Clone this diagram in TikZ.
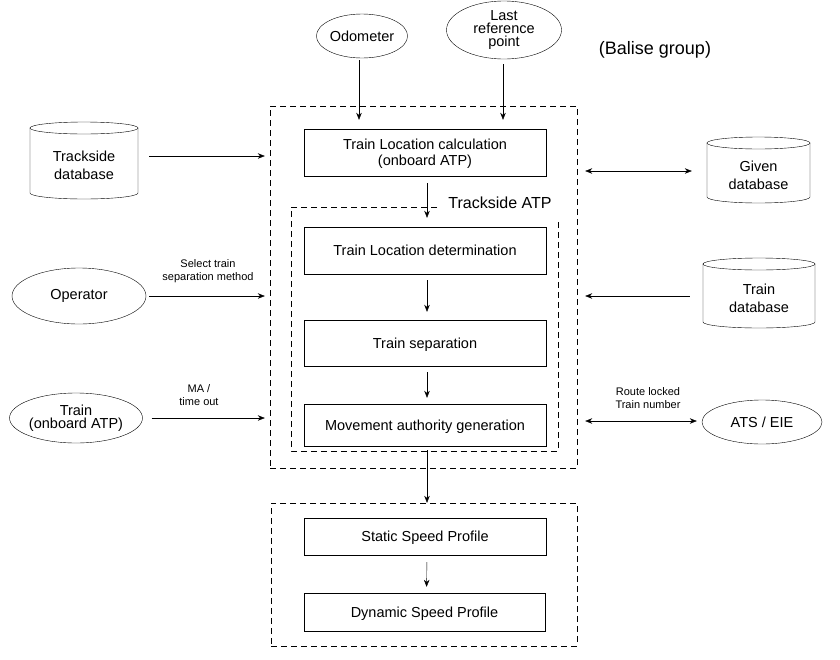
\documentclass[tikz,border=0pt]{standalone}
\usepackage{fontspec}
\setmainfont{Liberation Sans}
\usetikzlibrary{arrows.meta,shapes.geometric,calc}
\newcommand\dbcyl[6]{% name, cx, cy, half width, half height, text
  \draw (#2-#4,#3+#5-6) -- (#2-#4,#3-#5+6)
        arc[start angle=180,end angle=360,x radius=#4,y radius=6]
        -- (#2+#4,#3+#5-6);
  \draw (#2,#3+#5-6) ellipse[x radius=#4,y radius=6];
  \node[cyltext, minimum width=2*#4, minimum height=2*#5] (#1) at (#2,#3-5) {#6};
}
\begin{document}
\begin{tikzpicture}[x=1pt,y=1pt,
  box/.style={draw, minimum width=242, minimum height=47, inner sep=0, align=center,
              text depth=0pt, font=\fontsize{14.5}{16}\selectfont},
  ell/.style={draw, ellipse, inner sep=0, align=center, font=\fontsize{14.5}{13}\selectfont},
  cyltext/.style={inner sep=0, align=center, font=\fontsize{14.5}{18}\selectfont},
  grp/.style={draw, dash pattern=on 6pt off 4pt},
  arr/.style={-{Stealth[length=7pt,width=5.5pt]}},
  darr/.style={{Stealth[length=7pt,width=5.5pt]}-{Stealth[length=7pt,width=5.5pt]}},
  lbl/.style={align=center, font=\fontsize{11}{13.5}\selectfont}
]
\useasboundingbox[fill=white] (0,0) rectangle (840,-659);

% groups
\node[grp, minimum width=307, minimum height=362, inner sep=0] (outer) at (423.5,-287) {};
\node[grp, minimum width=306, minimum height=143, inner sep=0] (lower) at (424,-574.5) {};
\draw[grp] (437,-207) -| (291,-451) -| (558,-220);
\node[font=\fontsize{16}{18}\selectfont, inner sep=0] (tatp) at (500,-203) {Trackside ATP};

% process boxes
\node[box] (calc) at (425,-152.5) {Train Location calculation\\(onboard ATP)};
\node[box] (det) at (425,-250.5) {Train Location determination};
\node[box, minimum height=46] (sep) at (425,-343) {Train separation};
\node[box, minimum height=42] (mag) at (425,-425) {Movement authority generation};
\node[box, minimum height=37] (ssp) at (425,-536.5) {Static Speed Profile};
\node[box, minimum width=241, minimum height=38] (dsp) at (424.5,-612) {Dynamic Speed Profile};

% top inputs
\node[ell, minimum width=90, minimum height=44] (odo) at (362,-36) {Odometer};
\node[ell, minimum width=115, minimum height=58] (lrp) at (504,-30) {Last\\reference\\point};
\node[font=\fontsize{18}{20}\selectfont, inner sep=0] (balise) at (655,-50) {(Balise group)};

% left inputs
\dbcyl{tdb}{84}{-160.5}{54}{38.5}{Trackside\\database}
\node[ell, minimum width=134, minimum height=56] (op) at (79,-296) {Operator};
\node[ell, minimum width=128, minimum height=50] (train) at (76,-418) {Train\\(onboard ATP)};

% right inputs
\dbcyl{gdb}{758.5}{-170}{51.5}{33}{Given\\database}
\dbcyl{trdb}{759}{-293}{56}{35}{Train\\database}
\node[ell, minimum width=120, minimum height=44] (ats) at (762,-422) {ATS / EIE};

% vertical flow
\coordinate (o1) at ([xshift=-3pt]odo.south);
\draw[arr, shorten <=2pt, shorten >=9pt] (o1) -- (o1 |- calc.north);
\coordinate (l1) at ([xshift=-1pt]lrp.south);
\draw[arr, shorten <=5pt, shorten >=9pt] (l1) -- (l1 |- calc.north);
\draw[arr, shorten <=7pt, shorten >=9pt] ([xshift=2pt]calc.south) -- ([xshift=2pt]det.north);
\draw[arr, shorten <=6pt, shorten >=8pt] ([xshift=2pt]det.south) -- ([xshift=2pt]sep.north);
\draw[arr, shorten <=6pt, shorten >=6pt] ([xshift=2pt]sep.south) -- ([xshift=2pt]mag.north);
\draw[arr, shorten <=4pt] ([xshift=2pt]mag.south) -- ([xshift=2pt]mag.south |- lower.north);
\draw[arr, shorten <=7pt, shorten >=6pt] ([xshift=2pt]ssp.south) -- ([xshift=2pt]dsp.north);

% left connectors
\coordinate (t1) at ($(tdb.east)+(0,9.5)$);
\draw[arr, shorten <=11pt, shorten >=5pt] (t1) -- (t1 -| outer.west);
\draw[arr, shorten <=3pt, shorten >=5pt] (op.east) -- (op.east -| outer.west);
\draw[arr, shorten <=9pt, shorten >=5pt] (train.east) -- (train.east -| outer.west);
\node[lbl] (lsel) at (208,-271) {Select train\\separation method};
\node[lbl] (lma) at (199,-395) {MA /\\time out};

% right connectors
\coordinate (g1) at ($(gdb.west)+(0,4)$);
\draw[darr, shorten <=8pt, shorten >=15pt] (g1 -| outer.east) -- (g1);
\coordinate (r1) at ($(trdb.west)+(0,2)$);
\draw[arr, shorten <=13pt, shorten >=8pt] (r1) -- (r1 -| outer.east);
\coordinate (a1) at ($(ats.west)+(0,1)$);
\draw[darr, shorten <=8pt, shorten >=5pt] (a1 -| outer.east) -- (a1);
\node[lbl] (lroute) at (648,-398) {Route locked\\Train number};
\end{tikzpicture}
\end{document}
